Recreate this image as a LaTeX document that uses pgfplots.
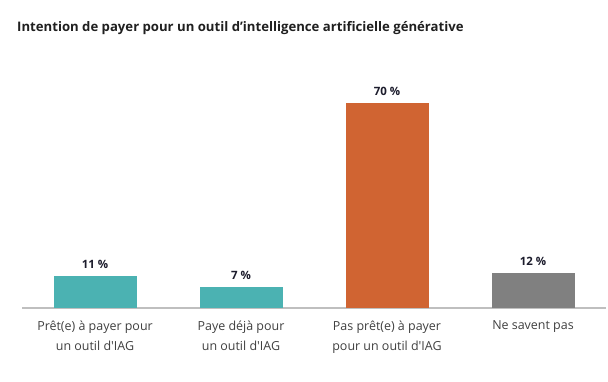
\documentclass[border=0pt]{standalone}
\usepackage{fontspec}
\setmainfont{Open Sans}
\usepackage{pgfplots}
\pgfplotsset{compat=1.18}
\definecolor{teal1}{HTML}{4BB2B2}
\definecolor{orange1}{HTML}{D06432}
\definecolor{gray1}{HTML}{808080}
\definecolor{axisgray}{HTML}{BFBFBF}
\definecolor{labelc}{HTML}{404040}
\definecolor{valc}{HTML}{1C1C2C}
\begin{document}
\begin{tikzpicture}
\useasboundingbox (0,0) rectangle (608bp,382bp);
\node[anchor=west, font={\fontsize{13.2}{15}\selectfont\bfseries}, text=black!88, inner sep=0] at (17bp,354bp) {Intention de payer pour un outil d’intelligence artificielle générative};
\begin{axis}[
  at={(22bp,74bp)}, anchor=south west,
  scale only axis, width=584bp, height=234.4bp,
  xmin=-0.5, xmax=3.5, ymin=0, ymax=80,
  axis x line*=bottom, axis y line=none,
  x axis line style={axisgray, line width=1.2pt, -},
  xtick={0,1,2,3}, major tick length=0pt,
  xticklabels={{Prêt(e) à payer pour\\un outil d\textquotesingle IAG},{Paye déjà pour\\un outil d\textquotesingle IAG},{Pas prêt(e) à payer\\pour un outil d\textquotesingle IAG},{Ne savent pas}},
  xticklabel style={align=center, anchor=north, text=labelc, font={\fontsize{12.5}{20.5}\selectfont}, yshift=-9bp},
  ybar, bar width=83bp, bar shift=0pt,
  /pgf/number format/assume math mode=true,
  nodes near coords={\pgfmathprintnumber{\pgfplotspointmeta}~\%},
  every node near coord/.append style={font={\fontsize{11.5}{13}\selectfont\bfseries}, text=valc, yshift=4bp},
  clip=false,
]
\addplot[fill=teal1, draw=none] coordinates {(0,11)};
\addplot[fill=teal1, draw=none] coordinates {(1,7)};
\addplot[fill=orange1, draw=none] coordinates {(2,70)};
\addplot[fill=gray1, draw=none] coordinates {(3,12)};
\end{axis}
\end{tikzpicture}
\end{document}
